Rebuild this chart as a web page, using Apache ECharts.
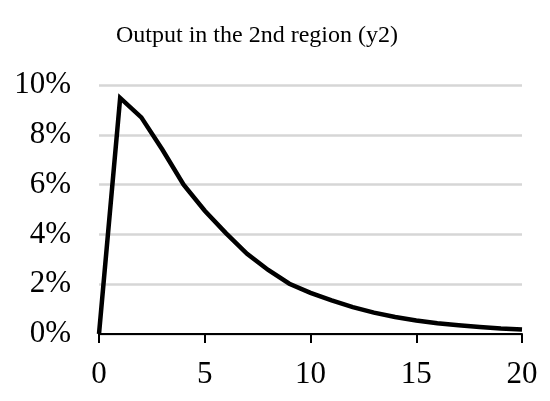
<!DOCTYPE html>
<html>
<head>
<meta charset="utf-8">
<script src="https://cdn.jsdelivr.net/npm/echarts@6/dist/echarts.min.js"></script>
<style>
html,body{margin:0;padding:0;background:#fff;}
#chart{width:550px;height:401px;}
</style>
</head>
<body>
<div id="chart"></div>
<script>
var titleText = "Output in the 2nd region (y2)";
var periods = [0,1,2,3,4,5,6,7,8,9,10,11,12,13,14,15,16,17,18,19,20];
var y2Values = [0, 9.48, 8.70, 7.40, 6.00, 4.95, 4.05, 3.22, 2.57, 2.02, 1.65, 1.35, 1.08, 0.86, 0.68, 0.54, 0.43, 0.35, 0.28, 0.22, 0.18];
var yTicks = [0, 2, 4, 6, 8, 10];
var xTicks = [0, 5, 10, 15, 20];

var FONT = "'Liberation Serif', 'Times New Roman', serif";
var chart = echarts.init(document.getElementById('chart'), null, {renderer:'canvas'});
chart.setOption({
  animation: false,
  backgroundColor: '#ffffff',
  title: {
    text: titleText,
    left: 111,
    top: 19,
    textStyle: {fontFamily: FONT, fontSize: 24, fontWeight: 'normal', color: '#000'}
  },
  grid: {left: 99, right: 28, top: 85, bottom: 67, containLabel: false},
  xAxis: {
    type: 'value',
    min: xTicks[0],
    max: xTicks[xTicks.length-1],
    interval: 5,
    axisLine: {show: true, onZero: false, lineStyle: {color: '#000', width: 2}},
    axisTick: {show: true, length: 9, inside: false, lineStyle: {color: '#000', width: 2}},
    axisLabel: {fontFamily: FONT, fontSize: 31, color: '#000', margin: 25},
    splitLine: {show: false}
  },
  yAxis: {
    type: 'value',
    min: yTicks[0],
    max: yTicks[yTicks.length-1],
    interval: 2,
    axisLine: {show: false},
    axisTick: {show: false},
    axisLabel: {fontFamily: FONT, fontSize: 31, color: '#000', margin: 28,
      formatter: function(v){ return v + '%'; }},
    splitLine: {show: true, lineStyle: {color: '#d6d6d6', width: 2.5}}
  },
  series: [{
    type: 'line',
    data: periods.map(function(p, i){ return [p, y2Values[i]]; }),
    showSymbol: false,
    lineStyle: {color: '#000', width: 4.5, join: 'miter'},
    z: 5
  }]
});
</script>
</body>
</html>
